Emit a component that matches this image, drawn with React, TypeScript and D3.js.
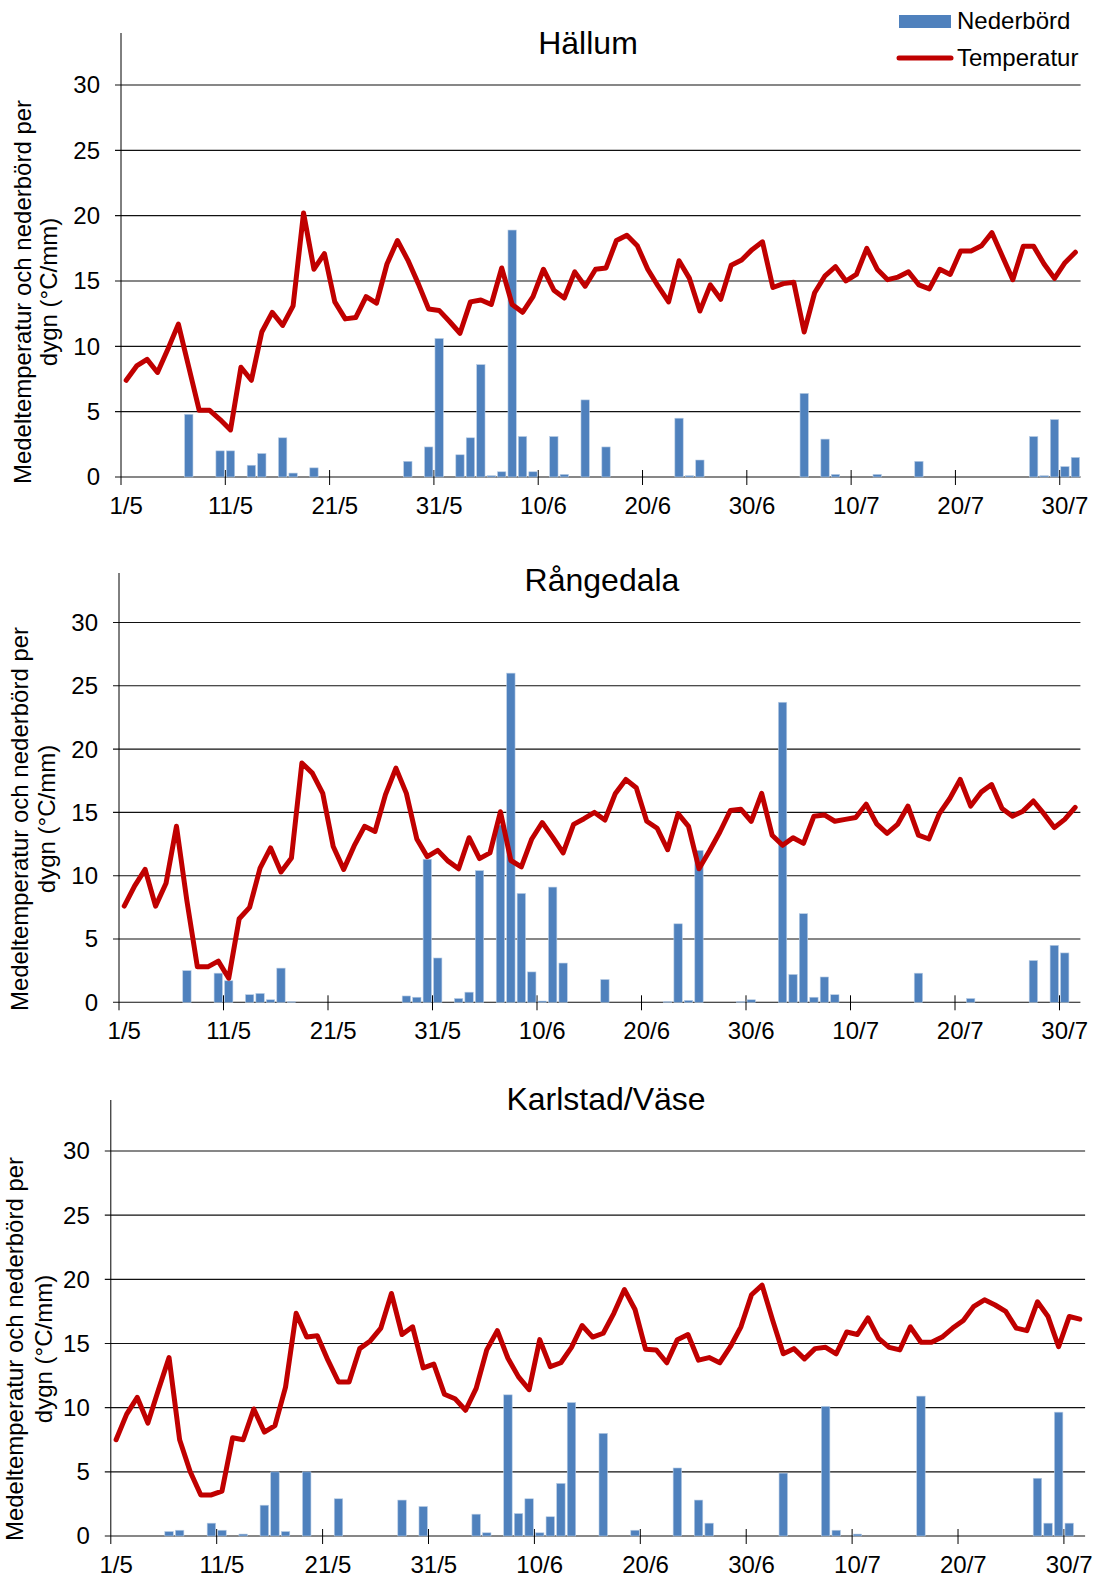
import React from "react";
import * as d3 from "d3";

// daily values 1/5 - 31/7 (92 days)
const tickLabels = ["1/5", "11/5", "21/5", "31/5", "10/6", "20/6", "30/6", "10/7", "20/7", "30/7"];
const yTicks = [0, 5, 10, 15, 20, 25, 30];

const hallumTemp = [
  7.4, 8.5, 9.0, 8.0, 9.8, 11.7, 8.4, 5.1, 5.1, 4.4,
  3.6, 8.4, 7.4, 11.1, 12.6, 11.6, 13.1, 20.2, 15.9, 17.1,
  13.4, 12.1, 12.2, 13.8, 13.3, 16.3, 18.1, 16.6, 14.8, 12.85,
  12.75, 11.9, 11.0, 13.4, 13.55, 13.2, 16.0, 13.2, 12.6, 13.8,
  15.9, 14.3, 13.7, 15.7, 14.6, 15.9, 16.0, 18.1, 18.5, 17.7,
  15.9, 14.6, 13.4, 16.55, 15.2, 12.7, 14.7, 13.6, 16.2, 16.6,
  17.4, 18.0, 14.5, 14.8, 14.9, 11.1, 14.1, 15.4, 16.1, 15.0,
  15.5, 17.5, 15.9, 15.1, 15.3, 15.7, 14.7, 14.4, 15.9, 15.5,
  17.3, 17.3, 17.7, 18.7, 16.9, 15.1, 17.65, 17.65, 16.3, 15.2,
  16.4, 17.2,
];
const hallumPrecip = [
  0, 0, 0, 0, 0, 0, 4.8, 0, 0, 2.0,
  2.0, 0, 0.9, 1.8, 0, 3.0, 0.3, 0, 0.7, 0,
  0, 0, 0, 0, 0, 0, 0, 1.2, 0, 2.3,
  10.6, 0, 1.7, 3.0, 8.6, 0.1, 0.4, 18.9, 3.1, 0.4,
  0, 3.1, 0.2, 0, 5.9, 0, 2.3, 0, 0, 0,
  0, 0, 0, 4.5, 0.1, 1.3, 0, 0, 0, 0,
  0, 0, 0, 0, 0, 6.4, 0, 2.9, 0.2, 0,
  0, 0, 0.2, 0, 0, 0, 1.2, 0, 0, 0,
  0, 0, 0, 0, 0, 0, 0, 3.1, 0.1, 4.4,
  0.8, 1.5,
];

const rangedalaTemp = [
  7.6, 9.2, 10.5, 7.6, 9.4, 13.9, 8.0, 2.8, 2.8, 3.25,
  1.9, 6.6, 7.5, 10.6, 12.2, 10.3, 11.4, 18.9, 18.1, 16.5,
  12.3, 10.5, 12.35, 13.9, 13.5, 16.4, 18.5, 16.5, 12.9, 11.5,
  12.0, 11.15, 10.55, 13.0, 11.35, 11.8, 15.05, 11.2, 10.7, 12.9,
  14.2, 13.05, 11.8, 14.05, 14.5, 15.0, 14.4, 16.5, 17.6, 16.95,
  14.3, 13.75, 12.05, 14.9, 13.9, 10.55, 11.95, 13.45, 15.15, 15.25,
  14.3, 16.5, 13.2, 12.4, 13.0, 12.55, 14.7, 14.8, 14.3, 14.45,
  14.6, 15.65, 14.1, 13.35, 14.05, 15.5, 13.2, 12.9, 14.9, 16.1,
  17.6, 15.5, 16.6, 17.2, 15.3, 14.7, 15.1, 15.9, 14.9, 13.8,
  14.45, 15.4,
];
const rangedalaPrecip = [
  0, 0, 0, 0, 0, 0, 2.5, 0, 0, 2.3,
  1.7, 0, 0.6, 0.7, 0.2, 2.7, 0.05, 0, 0, 0,
  0, 0, 0, 0, 0, 0, 0, 0.5, 0.4, 11.3,
  3.5, 0, 0.3, 0.8, 10.4, 0, 14.0, 26.0, 8.6, 2.4,
  0.1, 9.1, 3.1, 0, 0, 0, 1.8, 0, 0, 0,
  0, 0, 0.05, 6.2, 0.15, 12.0, 0, 0, 0, 0.05,
  0.2, 0, 0, 23.7, 2.2, 7.0, 0.4, 2.0, 0.6, 0,
  0, 0, 0, 0, 0, 0, 2.3, 0, 0, 0,
  0, 0.3, 0, 0, 0, 0, 0, 3.3, 0, 4.5,
  3.9, 0,
];

const karlstadTemp = [
  7.5, 9.5, 10.8, 8.8, 11.4, 13.9, 7.5, 5.0, 3.2, 3.2,
  3.5, 7.65, 7.5, 9.9, 8.1, 8.6, 11.6, 17.35, 15.5, 15.6,
  13.7, 12.0, 12.0, 14.6, 15.2, 16.2, 18.9, 15.7, 16.3, 13.1,
  13.4, 11.05, 10.7, 9.8, 11.5, 14.5, 16.0, 13.85, 12.4, 11.4,
  15.3, 13.2, 13.5, 14.7, 16.4, 15.5, 15.8, 17.35, 19.2, 17.65,
  14.55, 14.5, 13.5, 15.3, 15.7, 13.7, 13.9, 13.5, 14.75, 16.3,
  18.8, 19.55, 16.8, 14.2, 14.6, 13.8, 14.6, 14.7, 14.2, 15.9,
  15.7, 17.0, 15.4, 14.7, 14.5, 16.3, 15.1, 15.1, 15.5, 16.2,
  16.8, 17.9, 18.4, 18.0, 17.5, 16.2, 16.0, 18.25, 17.1, 14.75,
  17.1, 16.9,
];
const karlstadPrecip = [
  0, 0, 0, 0, 0, 0.35, 0.45, 0, 0, 1.0,
  0.45, 0, 0.15, 0, 2.4, 5.0, 0.35, 0, 5.0, 0,
  0, 2.9, 0, 0, 0, 0, 0, 2.8, 0, 2.3,
  0, 0, 0, 0, 1.7, 0.25, 0, 11.0, 1.75, 2.9,
  0.25, 1.5, 4.1, 10.4, 0, 0, 8.0, 0, 0, 0.45,
  0, 0, 0, 5.3, 0, 2.8, 1.0, 0, 0, 0,
  0, 0, 0, 4.9, 0, 0, 0, 10.1, 0.45, 0,
  0.15, 0, 0, 0, 0, 0, 10.9, 0, 0, 0,
  0, 0, 0, 0, 0, 0, 0, 4.5, 1.0, 9.65,
  1.0, 0,
];

const FONT = "Arial, 'Liberation Sans', sans-serif";
const BLUE = "#4F81BD";
const RED = "#C00000";

const panels = [
  { title: "Hällum", temp: hallumTemp, precip: hallumPrecip,
    x0: 121, x1: 1080.6, zero: 477, y30: 85, top: 33,
    titleX: 588, titleY: 54, labX1: 31, labX2: 57, labY: 292 },
  { title: "Rångedala", temp: rangedalaTemp, precip: rangedalaPrecip,
    x0: 119, x1: 1080.4, zero: 1002.3, y30: 622.5, top: 573,
    titleX: 602, titleY: 591, labX1: 28, labX2: 55, labY: 819 },
  { title: "Karlstad/Väse", temp: karlstadTemp, precip: karlstadPrecip,
    x0: 110.8, x1: 1085.1, zero: 1536, y30: 1151, top: 1100,
    titleX: 606, titleY: 1110, labX1: 23, labX2: 52, labY: 1349 },
];

function Panel({ p }: { p: any }) {
  const n = p.temp.length;
  const x = d3.scaleLinear().domain([0, n]).range([p.x0, p.x1]);
  const y = d3.scaleLinear().domain([0, 30]).range([p.zero, p.y30]);
  const line = d3.line<number>()
    .x((d, i) => x(i + 0.5))
    .y((d) => y(d));
  const barW = x(0.8) - x(0);

  return (
    <g>
      <text x={p.titleX} y={p.titleY} textAnchor="middle" fontSize={32} fontFamily={FONT}>{p.title}</text>
      <g transform={`translate(${p.labX1},${p.labY}) rotate(-90)`}>
        <text textAnchor="middle" fontSize={24} fontFamily={FONT}>Medeltemperatur och nederbörd per</text>
      </g>
      <g transform={`translate(${p.labX2},${p.labY}) rotate(-90)`}>
        <text textAnchor="middle" fontSize={24} fontFamily={FONT}>dygn (°C/mm)</text>
      </g>
      {yTicks.map((t) => (
        <g key={t}>
          <line x1={p.x0 - 6} x2={p.x1} y1={y(t)} y2={y(t)} stroke="#111" strokeWidth={1.1} />
          <text x={p.x0 - 21} y={y(t)} dy="0.35em" textAnchor="end" fontSize={24} fontFamily={FONT}>{t}</text>
        </g>
      ))}
      <line x1={p.x0} x2={p.x0} y1={p.top} y2={p.zero + 8} stroke="#000" strokeWidth={1} />
      {tickLabels.map((lab, k) => (
        <g key={lab}>
          {k > 0 && <line x1={x(k * 10)} x2={x(k * 10)} y1={p.zero - 7} y2={p.zero + 8} stroke="#000" strokeWidth={1} />}
          <text x={x(k * 10 + 0.5)} y={p.zero + 37} textAnchor="middle" fontSize={24} fontFamily={FONT}>{lab}</text>
        </g>
      ))}
      {p.precip.map((v: number, i: number) => v > 0 && (
        <rect key={i} x={x(i + 0.1)} width={barW} y={y(v)} height={p.zero - y(v)}
          fill={BLUE} stroke="#B9CDE5" strokeWidth={0.6} />
      ))}
      <path d={line(p.temp) || ""} fill="none" stroke={RED} strokeWidth={5}
        strokeLinejoin="round" strokeLinecap="round" />
    </g>
  );
}

export default function App() {
  return (
    <svg width={1096} height={1577} style={{ position: "absolute", left: 0, top: 0, background: "#fff" }}>
      {panels.map((p) => <Panel key={p.title} p={p} />)}
      <g>
        <rect x={899} y={15} width={52} height={13} fill={BLUE} />
        <text x={957} y={29} fontSize={24} fontFamily={FONT}>Nederbörd</text>
        <line x1={899} x2={951} y1={58} y2={58} stroke={RED} strokeWidth={5} strokeLinecap="round" />
        <text x={957} y={66} fontSize={24} fontFamily={FONT}>Temperatur</text>
      </g>
    </svg>
  );
}
